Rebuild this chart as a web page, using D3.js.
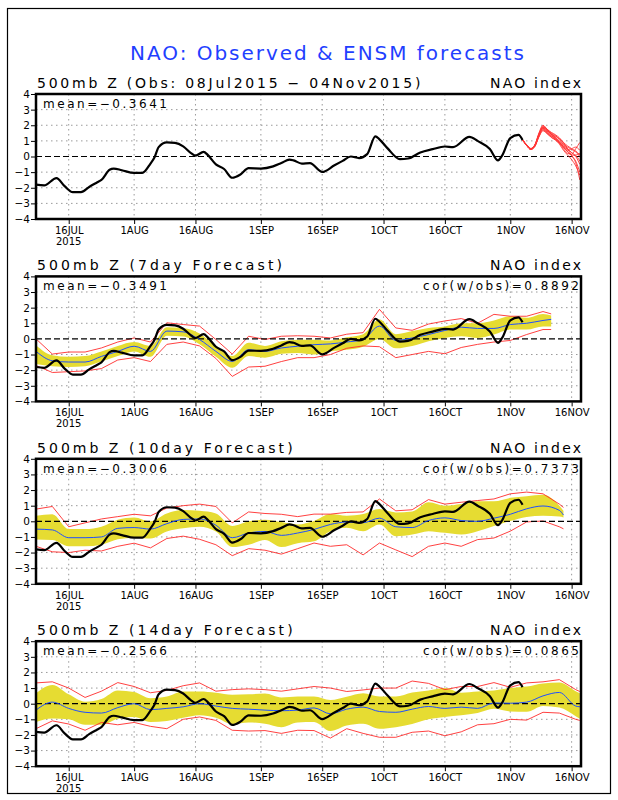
<!DOCTYPE html>
<html>
<head>
<meta charset="utf-8">
<script src="https://cdn.jsdelivr.net/npm/d3@7"></script>
<style>
body { margin: 0; background: white; }
text { font-family: "DejaVu Sans", sans-serif; }
</style>
</head>
<body>
<div id="chart"></div>
<script>
// all series are indexed by days after 08Jul2015

// observed NAO index
const obsDays = [0,2,5,7,9,11,13,15,16,18,19,21,24,26,28,29,30,32,34,36,38,39,41,42,44,46,48,50,52,55,58,60,62,63,65,67,70,73,75,77,79,81,83,84,86,89,91,94,97,100,102,106,108,111,113,114,116,118,119];
const obsVals = [-1.8,-1.85,-1.38,-1.9,-2.28,-2.28,-1.95,-1.65,-1.5,-0.85,-0.77,-0.88,-1.05,-1.05,-0.45,-0.05,0.6,0.9,0.87,0.65,0.2,0.05,0.3,0.1,-0.5,-0.8,-1.36,-1.15,-0.75,-0.77,-0.63,-0.42,-0.2,-0.25,-0.45,-0.42,-0.99,-0.56,-0.28,0.0,-0.1,0.15,1.29,1.1,0.52,-0.17,-0.13,0.26,0.47,0.64,0.6,1.26,1.0,0.48,-0.25,0.06,1.18,1.38,1.06];

// ensemble members from 04Nov (top panel)
const memberDays = [119,120,121,122,123,124,125,126,127,128,129,130,131,132,133];
const members = [
  [1.06,0.75,0.5,0.72,1.45,1.95,1.72,1.4,1.15,0.9,0.6,0.3,0.05,-0.4,-1.5],
  [1.06,0.72,0.47,0.68,1.4,1.9,1.75,1.5,1.35,1.1,0.8,0.5,0.25,0.0,-0.5],
  [1.06,0.74,0.5,0.7,1.35,1.8,1.62,1.45,1.25,1.0,0.8,0.6,0.45,0.3,0.0],
  [1.06,0.7,0.45,0.65,1.3,1.75,1.55,1.3,1.2,0.9,0.5,0.2,0.15,0.5,0.9],
  [1.06,0.73,0.48,0.72,1.42,1.85,1.68,1.42,1.3,1.15,0.9,0.5,0.05,-0.3,-1.0],
  [1.06,0.71,0.46,0.66,1.28,1.7,1.5,1.22,1.1,0.9,0.6,0.4,0.5,0.6,0.4],
  [1.06,0.76,0.52,0.75,1.5,2.0,1.75,1.55,1.4,1.2,0.9,0.68,0.5,0.35,0.1],
  [1.06,0.72,0.47,0.7,1.38,1.82,1.58,1.35,1.1,0.8,0.4,0.1,-0.2,-0.6,-1.2],
  [1.06,0.7,0.45,0.64,1.25,1.65,1.45,1.25,1.05,0.85,0.65,0.3,0.1,0.05,-0.3],
  [1.06,0.74,0.5,0.71,1.4,1.88,1.68,1.45,1.2,0.95,0.7,0.45,0.25,0.1,0.2]
];

// 7day forecast
const days7 = [0,4,8,12,16,20,24,28,32,36,40,44,48,52,56,60,64,68,72,76,80,84,88,92,96,100,104,108,112,116,120,124,126];
const mean7 = [-0.8,-1.4,-1.48,-1.48,-1.12,-0.8,-0.47,-0.8,0.5,0.45,-0.04,-0.8,-1.44,-0.69,-0.8,-0.58,-0.47,-0.37,-0.32,-0.2,-0.04,0.82,-0.1,0.06,0.28,0.54,0.75,0.67,0.67,0.92,1.0,1.18,1.25];
const bandHi7 = [-0.4,-1.05,-1.15,-1.1,-0.8,-0.45,-0.2,-0.45,0.75,0.7,0.35,-0.45,-1.1,-0.25,-0.45,-0.15,-0.05,-0.05,-0.1,0.1,0.3,1.25,0.3,0.5,0.7,0.8,1.0,1.0,1.18,1.45,1.35,1.6,1.5];
const bandLo7 = [-1.6,-1.75,-1.8,-1.75,-1.45,-1.1,-0.8,-1.15,0.2,0.15,-0.35,-1.15,-1.85,-1.1,-1.2,-0.95,-0.9,-1.0,-0.8,-0.7,-0.5,0.0,-0.6,-0.45,-0.15,0.06,0.17,0.06,0.28,0.6,0.6,0.8,0.8];
const redHi7 = [0.0,-0.97,-0.84,-0.84,-0.58,-0.2,0.06,-0.2,1.03,0.92,0.82,-0.04,-0.97,0.17,-0.04,0.17,0.2,0.17,0.06,0.3,0.4,1.89,0.7,0.55,0.95,1.15,1.3,1.0,1.57,1.45,1.45,1.75,1.6];
const redLo7 = [-1.7,-2.15,-2.1,-2.05,-1.9,-1.35,-1.2,-1.45,-0.35,-0.2,-0.45,-1.25,-2.4,-1.8,-1.75,-1.45,-1.2,-1.2,-1.0,-0.6,-0.45,-0.5,-1.2,-1.0,-0.8,-0.95,-0.55,-0.35,-0.2,-0.1,0.28,0.6,0.6];

// 10day forecast
const days10 = [0,4,8,12,16,20,24,28,32,36,40,44,48,52,56,60,64,68,72,76,80,84,88,92,96,100,104,108,112,116,120,124,128,129];
const mean10 = [-0.5,-0.55,-1.05,-1.05,-1.0,-0.45,-0.4,-0.5,-0.15,0.12,0.15,-0.25,-1.05,-0.75,-0.65,-0.9,-0.75,-0.52,-0.2,-0.05,-0.09,0.2,-0.35,-0.4,0.05,0.22,0.05,0.0,0.2,0.45,0.8,0.98,0.7,0.4];
const bandHi10 = [0.35,0.45,-0.5,-0.5,-0.35,0.1,0.25,0.0,0.5,0.72,0.67,0.5,-0.3,0.0,0.1,-0.05,-0.2,0.02,0.46,0.35,0.46,0.78,0.57,0.63,1.22,1.0,1.11,1.28,1.28,1.5,1.6,1.7,1.0,0.67];
const bandLo10 = [-1.17,-1.2,-1.6,-1.6,-1.5,-1.15,-1.05,-1.1,-0.65,-0.45,-0.35,-0.65,-1.65,-1.5,-1.2,-1.65,-1.4,-1.28,-0.63,-0.41,-0.63,-0.2,-0.96,-0.85,-0.63,-0.74,-0.85,-0.63,-0.3,0.02,0.28,0.35,0.3,0.24];
const redHi10 = [0.78,0.95,-0.35,-0.1,0.15,0.3,0.45,0.35,0.85,1.0,1.1,0.95,-0.1,0.6,0.5,0.45,0.3,0.46,0.46,0.57,0.6,1.43,0.67,0.74,1.39,1.1,1.22,1.33,1.43,1.76,1.87,1.76,1.1,0.89];
const redLo10 = [-1.6,-1.95,-2.0,-1.85,-1.9,-1.6,-1.4,-1.7,-1.1,-0.95,-1.15,-1.5,-2.2,-1.75,-1.85,-2.1,-1.75,-1.39,-1.6,-1.5,-2.15,-1.39,-1.83,-2.26,-1.6,-1.39,-1.6,-1.17,-1.07,-0.63,-0.04,0.02,-0.35,-0.48];

// 14day forecast
const days14 = [0,4,8,12,16,20,24,28,32,36,40,44,48,52,56,60,64,68,72,76,80,84,88,92,96,100,104,108,112,116,120,124,128,132,133];
const mean14 = [-0.41,0.1,-0.3,-0.55,-0.6,-0.25,0.0,-0.38,-0.3,-0.2,0.0,-0.15,-0.3,-0.35,-0.41,-0.45,-0.41,-0.27,-0.65,-0.35,-0.22,-0.5,-0.55,-0.35,-0.18,-0.3,-0.22,-0.3,0.05,0.03,0.1,0.5,0.72,-0.15,-0.2];
const bandHi14 = [0.67,1.2,0.6,0.13,0.3,0.85,0.75,0.35,0.46,0.78,0.78,0.7,0.57,0.6,0.65,0.4,0.46,0.46,0.24,0.45,0.67,0.46,0.46,0.72,0.85,1.0,0.7,0.78,0.85,1.0,1.1,1.3,1.35,0.8,0.67];
const bandLo14 = [-1.17,-0.95,-1.0,-1.35,-1.35,-0.96,-0.85,-1.17,-1.1,-0.9,-0.74,-0.9,-1.3,-1.2,-1.28,-1.5,-1.2,-1.17,-1.75,-1.4,-1.28,-1.6,-1.5,-1.3,-1.0,-0.85,-0.74,-0.6,-0.33,-0.5,-0.52,-0.15,-0.25,-0.8,-0.96];
const redHi14 = [1.33,1.4,1.0,0.4,0.8,1.35,1.1,0.7,0.85,1.15,1.33,0.8,0.9,0.95,0.9,0.8,0.95,1.1,1.0,0.78,0.88,1.0,1.0,1.45,1.3,0.9,1.1,1.1,1.35,1.05,1.33,1.4,1.54,0.9,0.78];
const redLo14 = [-1.6,-1.1,-1.3,-1.7,-1.2,-1.35,-1.2,-1.45,-1.6,-1.0,-0.85,-1.07,-1.7,-1.75,-1.72,-1.9,-1.7,-1.72,-2.2,-1.6,-1.9,-2.15,-2.15,-1.83,-1.75,-2.05,-1.8,-1.35,-1.28,-1.0,-1.05,-0.55,-0.6,-1.0,-1.07];

// labels
const panelTitles = ["500mb Z (Obs: 08Jul2015 \u2212 04Nov2015)", "500mb Z (7day Forecast)", "500mb Z (10day Forecast)", "500mb Z (14day Forecast)"];
const panelMeans = ["mean=\u22120.3641", "mean=\u22120.3491", "mean=\u22120.3006", "mean=\u22120.2566"];
const panelCors = [null, "cor(w/obs)=0.8892", "cor(w/obs)=0.7373", "cor(w/obs)=0.0865"];
const tickDays = [8,24,39,55,70,85,100,116,131];
const yTicks = [-4,-3,-2,-1,0,1,2,3,4];

const forecasts = [
  null,
  {days: days7, mean: mean7, hi: bandHi7, lo: bandLo7, rHi: redHi7, rLo: redLo7},
  {days: days10, mean: mean10, hi: bandHi10, lo: bandLo10, rHi: redHi10, rLo: redLo10},
  {days: days14, mean: mean14, hi: bandHi14, lo: bandLo14, rHi: redHi14, rLo: redLo14}
];

const W = 618, H = 800;
const svg = d3.select("#chart").append("svg")
    .attr("width", W)
    .attr("height", H)
    .style("display", "block")

svg.append("rect")
    .attr("x", 7.5).attr("y", 8.5)
    .attr("width", 603).attr("height", 785)
    .attr("fill", "white")
    .attr("stroke", "black")
    .attr("stroke-width", 1.2)

svg.append("text")
    .attr("x", 327).attr("y", 60)
    .attr("text-anchor", "middle")
    .attr("font-size", 20)
    .attr("fill", "#1f3fff")
    .attr("textLength", 394)
    .attr("lengthAdjust", "spacing")
    .text("NAO: Observed & ENSM forecasts")

const t0 = new Date(Date.UTC(2015, 6, 8));
const day = d => d3.utcHour.offset(t0, Math.round(d * 24));

const x = d3.scaleUtc()
    .domain([t0, day(133.3)])
    .range([36, 581]);

const fmtDate = d => d3.utcFormat("%-d%b")(d).toUpperCase();
const obsPts = obsDays.map((d, i) => ({day: d, v: obsVals[i]}));

for (let i = 0; i < 4; i++) {
    const top = 94 + i * 182.4;
    const bottom = top + 125;
    const y = d3.scaleLinear().domain([-4, 4]).range([bottom, top]);
    const g = svg.append("g");

    // dotted grid
    g.selectAll(".hgrid")
        .data(yTicks.filter(d => d != 0 && Math.abs(d) != 4))
        .join("line")
        .attr("x1", 36).attr("x2", 581)
        .attr("y1", d => y(d)).attr("y2", d => y(d))
        .attr("stroke", "#9a9a9a")
        .attr("stroke-dasharray", "1.5,3.5")
    g.selectAll(".vgrid")
        .data(tickDays)
        .join("line")
        .attr("x1", d => x(day(d))).attr("x2", d => x(day(d)))
        .attr("y1", top).attr("y2", bottom)
        .attr("stroke", "#9a9a9a")
        .attr("stroke-dasharray", "1.5,3.5")

    const line = d3.line()
        .x(d => x(day(d.day)))
        .y(d => y(d.v));

    const fc = forecasts[i];
    if (fc) {
        const pts = fc.days.map((d, j) => ({day: d, lo: fc.lo[j], hi: fc.hi[j]}));
        g.append("path")
            .datum(pts)
            .attr("fill", "#e6dc32")
            .attr("d", d3.area()
                .x(d => x(day(d.day)))
                .y0(d => y(d.lo))
                .y1(d => y(d.hi))
                .curve(d3.curveMonotoneX))

        ;[fc.rHi, fc.rLo].forEach(vals => {
            g.append("path")
                .datum(fc.days.map((d, j) => ({day: d, v: vals[j]})))
                .attr("fill", "none")
                .attr("stroke", "#ff2b2b")
                .attr("stroke-width", 0.9)
                .attr("d", line)
        })
    }

    // zero line
    g.append("line")
        .attr("x1", 36).attr("x2", 581)
        .attr("y1", y(0)).attr("y2", y(0))
        .attr("stroke", "black")
        .attr("stroke-width", 1.2)
        .attr("stroke-dasharray", "6,3")

    if (fc) {
        g.append("path")
            .datum(fc.days.map((d, j) => ({day: d, v: fc.mean[j]})))
            .attr("fill", "none")
            .attr("stroke", "#1f4fff")
            .attr("stroke-width", 1)
            .attr("d", line.curve(d3.curveMonotoneX))
    } else {
        members.forEach(m => {
            g.append("path")
                .datum(memberDays.map((d, j) => ({day: d, v: m[j]})))
                .attr("fill", "none")
                .attr("stroke", "#ff3535")
                .attr("stroke-width", 0.9)
                .attr("d", line.curve(d3.curveMonotoneX))
        })
    }

    // observed
    g.append("path")
        .datum(obsPts)
        .attr("fill", "none")
        .attr("stroke", "black")
        .attr("stroke-width", 2.2)
        .attr("stroke-linejoin", "round")
        .attr("d", line.curve(d3.curveMonotoneX))

    // frame
    g.append("rect")
        .attr("x", 36).attr("y", top)
        .attr("width", 545).attr("height", 125)
        .attr("fill", "none")
        .attr("stroke", "black")
        .attr("stroke-width", 2.5)

    const yAxis = g.append("g")
        .attr("transform", `translate(35,0)`)
        .call(d3.axisLeft(y).tickValues(yTicks).tickSize(4).tickPadding(1).tickFormat(d3.format("d")))
    yAxis.select(".domain").remove()
    yAxis.selectAll("text").attr("font-size", 10.5).attr("font-family", "DejaVu Sans")

    const xAxis = g.append("g")
        .attr("transform", `translate(0,${bottom + 1})`)
        .call(d3.axisBottom(x).tickValues(tickDays.map(day)).tickSize(4).tickPadding(3).tickFormat(fmtDate))
    xAxis.select(".domain").remove()
    xAxis.selectAll("text").attr("font-size", 10).attr("font-family", "DejaVu Sans")

    g.append("text")
        .attr("x", x(day(tickDays[0]))).attr("y", bottom + 26)
        .attr("text-anchor", "middle")
        .attr("font-size", 10)
        .text("2015")

    g.append("text")
        .attr("x", 37).attr("y", top - 6)
        .attr("font-size", 14)
        .attr("textLength", panelTitles[i].length * 10.65)
        .attr("lengthAdjust", "spacing")
        .text(panelTitles[i])

    g.append("text")
        .attr("x", 581).attr("y", top - 6)
        .attr("text-anchor", "end")
        .attr("font-size", 14)
        .attr("textLength", 91)
        .attr("lengthAdjust", "spacing")
        .text("NAO index")

    g.append("text")
        .attr("x", 43).attr("y", top + 14)
        .attr("font-size", 12)
        .attr("textLength", 124)
        .attr("lengthAdjust", "spacing")
        .text(panelMeans[i])

    if (panelCors[i]) {
        g.append("text")
            .attr("x", 579).attr("y", top + 14)
            .attr("text-anchor", "end")
            .attr("font-size", 12)
            .attr("textLength", 156)
            .attr("lengthAdjust", "spacing")
            .text(panelCors[i])
    }
}
</script>
</body>
</html>
